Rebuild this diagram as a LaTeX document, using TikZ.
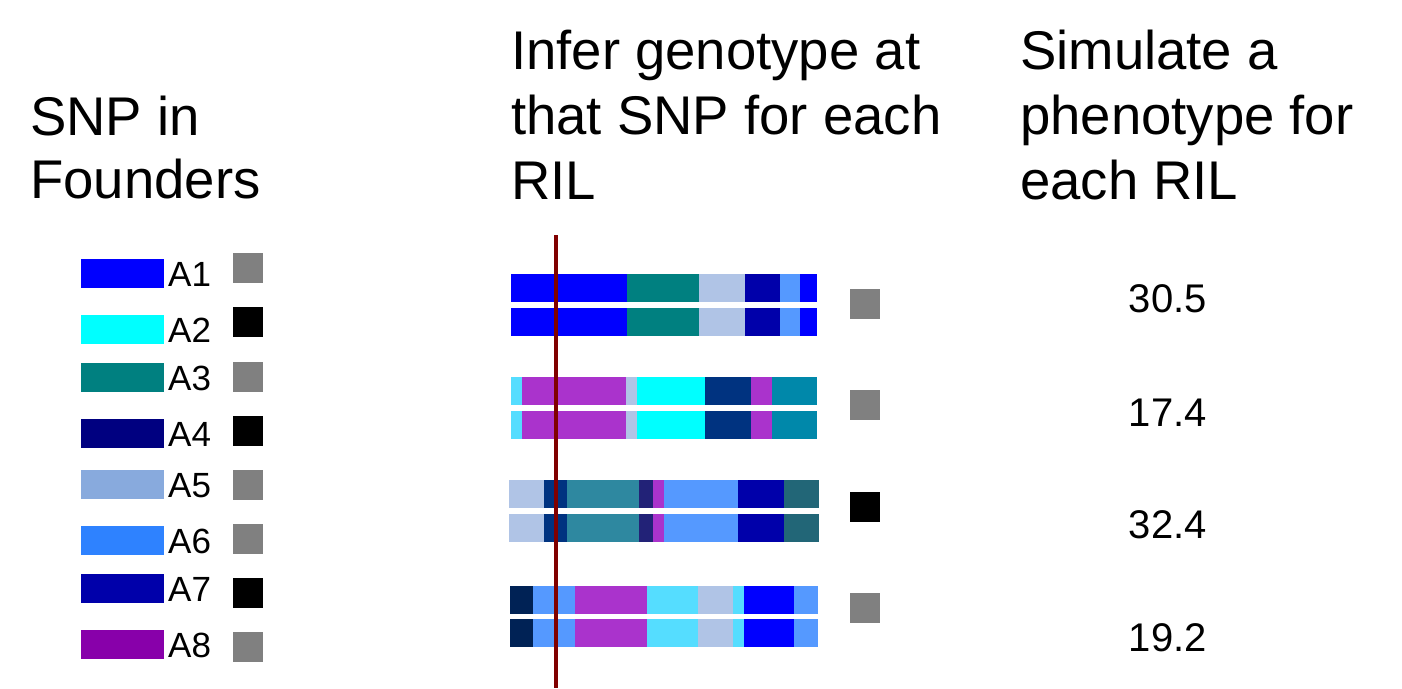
\documentclass[tikz,border=0pt]{standalone}
\usepackage{fontspec}
\setmainfont{Liberation Sans}
\definecolor{fA1}{HTML}{0000FF}
\definecolor{fA2}{HTML}{00FFFF}
\definecolor{fA3}{HTML}{008080}
\definecolor{fA4}{HTML}{000080}
\definecolor{fA5}{HTML}{88AADD}
\definecolor{fA6}{HTML}{2E82FF}
\definecolor{fA7}{HTML}{0000AA}
\definecolor{fA8}{HTML}{8800AA}
\definecolor{cblue}{HTML}{0000FF}
\definecolor{cteal}{HTML}{008080}
\definecolor{clight}{HTML}{B0C4E6}
\definecolor{cdblue}{HTML}{0000AA}
\definecolor{cmblue}{HTML}{5599FF}
\definecolor{clcyan}{HTML}{55DDFF}
\definecolor{cpurple}{HTML}{AA33CC}
\definecolor{ccyan}{HTML}{00FFFF}
\definecolor{cnavy}{HTML}{003380}
\definecolor{cteal2}{HTML}{0088AA}
\definecolor{cteal3}{HTML}{2E88A0}
\definecolor{cindigo}{HTML}{222277}
\definecolor{cdteal}{HTML}{226677}
\definecolor{cdnavy}{HTML}{002255}
\definecolor{sgray}{HTML}{808080}
\definecolor{snpred}{HTML}{800000}
\newcommand\chrompair[3]{%
  \foreach \ya in {#1,#2}{%
    \foreach \xa/\xb/\cc in {#3}{%
      \fill[\cc] (\xa,\ya) rectangle (\xb,\ya+28);
    }%
  }%
}
\begin{document}
\begin{tikzpicture}[x=1pt,y=-1pt,
  hd/.style={inner sep=0pt,anchor=base west,font=\fontsize{54.5}{65}\selectfont},
  lbl/.style={inner sep=0pt,anchor=base west,font=\fontsize{35}{42}\selectfont},
  num/.style={inner sep=0pt,anchor=base east,font=\fontsize{40}{48}\selectfont},
  sq/.style={minimum size=30pt,inner sep=0pt,anchor=north west}]
\useasboundingbox (0,0) rectangle (1402,688);
\fill[white] (0,0) rectangle (1402,688);
% headings
\node[hd] (h1) at (30,135) {\begin{tabular}[t]{@{}l@{}}SNP in\\[-2pt]Founders\end{tabular}};
\node[hd] (h2) at (511,69) {\begin{tabular}[t]{@{}l@{}}Infer genotype at\\that SNP for each\\RIL\end{tabular}};
\node[hd] (h3) at (1020,69) {\begin{tabular}[t]{@{}l@{}}Simulate a\\phenotype for\\each RIL\end{tabular}};
% legend
\foreach \i/\yt/\sy/\sc in {1/259/253/sgray,2/315/307/black,3/363/362/sgray,4/419/416/black,5/470/470/sgray,6/526/524/sgray,7/574/578/black,8/630/632/sgray}{
  \fill[fA\i] (81,\yt) rectangle (164,\yt+29);
  \node[lbl] (lab\i) at (168,\yt+27) {A\i};
  \node[sq,fill=\sc] (fs\i) at (233,\sy) {};
}
% RIL chromosomes
\chrompair{274.3}{308.3}{511/626.7/cblue,626.7/698.7/cteal,698.7/744.7/clight,744.7/779.7/cdblue,779.7/799.7/cmblue,799.7/816.7/cblue}
\chrompair{377}{411}{511/522.3/clcyan,522.3/626.3/cpurple,626.3/637/clight,637/705.3/ccyan,705.3/751/cnavy,751/771.7/cpurple,771.7/816.7/cteal2}
\chrompair{480.3}{514}{509.3/544/clight,544/567/cnavy,567/639/cteal3,639/653/cindigo,653/664/cpurple,664/738.3/cmblue,738.3/784/cdblue,784/818.7/cdteal}
\chrompair{585.7}{619.3}{510/533.3/cdnavy,533.3/575/cmblue,575/646.7/cpurple,646.7/698/clcyan,698/733/clight,733/744.3/clcyan,744.3/794.3/cblue,794.3/817.7/cmblue}
% SNP marker line
\coordinate (snptop) at (556,235);
\coordinate (snpbot) at (556,688);
\draw[snpred,line width=4pt] (snptop) -- (snpbot);
% RIL genotype squares
\node[sq,fill=sgray] (r1) at (850,289) {};
\node[sq,fill=sgray] (r2) at (850,390) {};
\node[sq,fill=black] (r3) at (850,492) {};
\node[sq,fill=sgray] (r4) at (850,593) {};
% phenotypes
\node[num] (p1) at (1207,312) {30.5};
\node[num] (p2) at (1207,426) {17.4};
\node[num] (p3) at (1207,538) {32.4};
\node[num] (p4) at (1207,651) {19.2};
\end{tikzpicture}
\end{document}
